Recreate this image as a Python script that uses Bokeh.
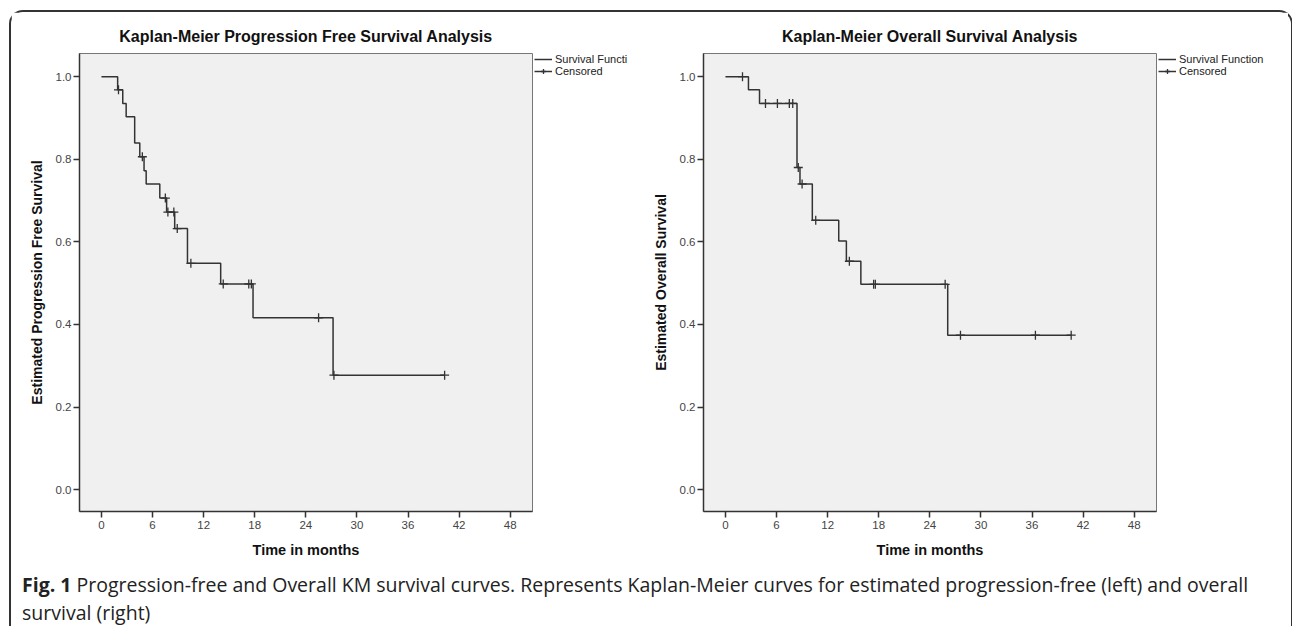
from bokeh.plotting import figure
from bokeh.models import Legend, LegendItem, Div, FixedTicker, Range1d
from bokeh.layouts import row, column
from bokeh.embed import file_html
from bokeh.resources import INLINE

# ---- Progression-free survival (left panel) ----
pfs_event_t = [1.9, 2.5, 2.9, 3.9, 4.5, 5.0, 5.25, 6.85, 7.65, 8.6, 10.1, 14.0, 17.8, 27.2]
pfs_event_s = [0.968, 0.935, 0.903, 0.839, 0.806, 0.772, 0.740, 0.706, 0.672, 0.632, 0.548, 0.498, 0.416, 0.277]
pfs_cens_t = [2.0, 4.8, 7.5, 7.8, 8.5, 8.9, 10.5, 14.3, 17.3, 17.6, 25.5, 27.3, 40.3]
pfs_cens_s = [0.968, 0.806, 0.706, 0.672, 0.672, 0.632, 0.548, 0.498, 0.498, 0.498, 0.416, 0.277, 0.277]

# ---- Overall survival (right panel) ----
os_event_t = [2.7, 4.0, 8.4, 8.75, 10.2, 13.3, 14.2, 15.9, 26.1]
os_event_s = [0.968, 0.935, 0.780, 0.740, 0.652, 0.602, 0.553, 0.497, 0.374]
os_cens_t = [2.0, 4.7, 6.1, 7.5, 7.9, 8.55, 9.0, 10.6, 14.55, 17.4, 17.6, 25.8, 27.6, 36.4, 40.6]
os_cens_s = [1.0, 0.935, 0.935, 0.935, 0.935, 0.780, 0.740, 0.652, 0.553, 0.497, 0.497, 0.497, 0.374, 0.374, 0.374]

x_ticks = [0, 6, 12, 18, 24, 30, 36, 42, 48]
y_ticks = [0.0, 0.2, 0.4, 0.6, 0.8, 1.0]

FONT = "Liberation Sans"
INK = "#333333"
FRAME_W = 453
FRAME_H = 458
TOP = 41
BOTTOM = 55


def draw_km(p, event_t, event_s, cens_t, cens_s):
    xs = [0.0] + event_t + [max(cens_t)]
    ys = [1.0] + event_s + [event_s[-1]]
    step_r = p.step(xs, ys, mode="after", line_color=INK, line_width=1.5)
    cens_r = p.scatter(cens_t, cens_s, marker="cross", size=9,
                       line_color=INK, line_width=1.3)
    return step_r, cens_r


def km_panel(title, ylabel, event_t, event_s, cens_t, cens_s, border_left):
    p = figure(frame_width=FRAME_W, frame_height=FRAME_H,
               min_border_left=border_left, min_border_right=2,
               min_border_top=TOP, min_border_bottom=BOTTOM,
               x_range=Range1d(-2.58, 50.62), y_range=Range1d(-0.053, 1.056),
               output_backend="svg", toolbar_location=None,
               background_fill_color="#f0f0f0", border_fill_color="white",
               outline_line_color="#777777", outline_line_width=1)
    p.grid.visible = False

    p.title.text = title
    p.title.align = "center"
    p.title.text_font = FONT
    p.title.text_font_size = "16px"
    p.title.text_font_style = "bold"
    p.title.text_color = "#111111"
    p.title.standoff = 18

    for ax in (p.xaxis[0], p.yaxis[0]):
        ax.axis_line_color = INK
        ax.axis_line_width = 1.5
        ax.major_tick_line_color = INK
        ax.major_tick_line_width = 1.5
        ax.major_tick_out = 6
        ax.major_tick_in = 0
        ax.minor_tick_line_color = None
        ax.major_label_text_font = FONT
        ax.major_label_text_font_size = "11.5px"
        ax.major_label_text_color = "#444444"
        ax.axis_label_text_font = FONT
        ax.axis_label_text_font_style = "bold"
        ax.axis_label_text_color = "#111111"

    p.xaxis.ticker = FixedTicker(ticks=x_ticks)
    p.xaxis.axis_label = "Time in months"
    p.xaxis.axis_label_text_font_size = "14.5px"
    p.xaxis.major_label_standoff = 3
    p.xaxis.axis_label_standoff = 10

    p.yaxis.ticker = FixedTicker(ticks=y_ticks)
    p.yaxis.major_label_overrides = {v: f"{v:.1f}" for v in y_ticks}
    p.yaxis.axis_label = ylabel
    p.yaxis.axis_label_text_font_size = "14px"
    p.yaxis.major_label_standoff = 2
    p.yaxis.axis_label_standoff = 8

    draw_km(p, event_t, event_s, cens_t, cens_s)
    return p


def legend_panel(width, surv_label, event_t, event_s, cens_t, cens_s):
    # a narrow strip right of the plot box that only carries the legend;
    # its ranges keep the (same) data out of view so only the legend shows
    lp = figure(width=width, height=TOP + FRAME_H + BOTTOM,
                min_border=0, x_range=Range1d(1000, 1001), y_range=Range1d(1000, 1001),
                x_axis_type=None, y_axis_type=None,
                output_backend="svg", toolbar_location=None,
                background_fill_color="white", border_fill_color="white",
                outline_line_color=None)
    lp.grid.visible = False
    step_r, cens_r = draw_km(lp, event_t, event_s, cens_t, cens_s)
    legend = Legend(items=[LegendItem(label=surv_label, renderers=[step_r]),
                           LegendItem(label="Censored", renderers=[step_r, cens_r])],
                    location=(0, FRAME_H - 24), padding=0, margin=0, spacing=0,
                    glyph_width=18, glyph_height=12, label_height=12,
                    label_standoff=3, label_text_font=FONT,
                    label_text_font_size="11px", label_text_color="#222222",
                    background_fill_alpha=0, border_line_alpha=0)
    lp.add_layout(legend, "center")
    return lp


p1 = km_panel("Kaplan-Meier Progression Free Survival Analysis",
              "Estimated Progression Free Survival",
              pfs_event_t, pfs_event_s, pfs_cens_t, pfs_cens_s, 68)
l1 = legend_panel(106, "Survival Functi",
                  pfs_event_t, pfs_event_s, pfs_cens_t, pfs_cens_s)
p2 = km_panel("Kaplan-Meier Overall Survival Analysis",
              "Estimated Overall Survival",
              os_event_t, os_event_s, os_cens_t, os_cens_s, 63)
l2 = legend_panel(130, "Survival Function",
                  os_event_t, os_event_s, os_cens_t, os_cens_s)

caption = Div(
    text=("<b>Fig. 1</b> Progression-free and Overall KM survival curves. "
          "Represents Kaplan-Meier curves for estimated progression-free (left) and overall"
          "<br>survival (right)"),
    width=1270, height=58,
    styles={"font-family": "'Open Sans'", "font-size": "19.5px", "line-height": "28px",
            "color": "#222222", "padding-left": "6px", "white-space": "nowrap"})

layout = column(row(p1, l1, p2, l2), caption,
                styles={"margin-top": "10px", "margin-left": "9px",
                        "border-top": "2px solid #333", "border-left": "2px solid #333",
                        "border-right": "2px solid #333",
                        "border-top-left-radius": "14px",
                        "border-top-right-radius": "14px"})

open("out.html", "w").write(file_html(layout, INLINE))
